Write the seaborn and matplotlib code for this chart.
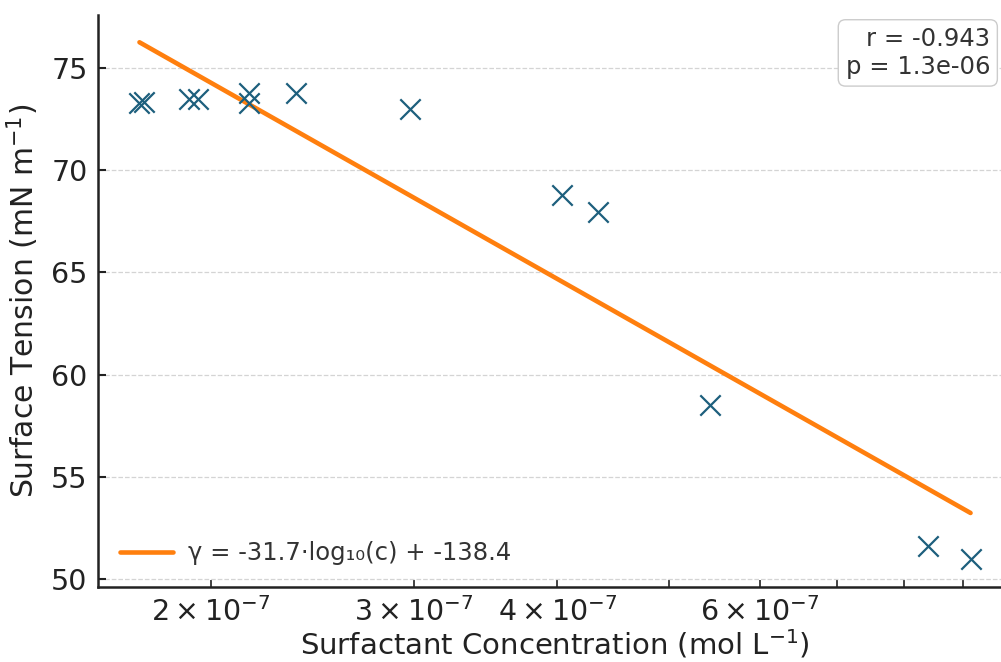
import numpy as np
import pandas as pd
import matplotlib
matplotlib.use("Agg")
import matplotlib.pyplot as plt
import seaborn as sns

# ---- data ----
concentration = [1.734e-7, 1.75e-7, 1.915e-7, 1.95e-7, 2.158e-7, 2.158e-7,
                 2.37e-7, 2.98e-7, 4.04e-7, 4.34e-7, 5.43e-7, 8.39e-7, 9.14e-7]
tension = [73.28, 73.35, 73.47, 73.47, 73.76, 73.28,
           73.76, 73.01, 68.80, 67.98, 58.51, 51.60, 50.98]
stats_text = "r = -0.943\np = 1.3e-06"
fit_label = "γ = -31.7·log₁₀(c) + -138.4"
x_label = "Surfactant Concentration (mol L$^{-1}$)"
y_label = "Surface Tension (mN m$^{-1}$)"
y_ticks = [50, 55, 60, 65, 70, 75]

sns.set_theme(style="ticks")
plt.rcParams['font.family'] = ['DejaVu Sans']

df = pd.DataFrame({"c": concentration, "g": tension})
logc = np.log10(df["c"].values)
slope, intercept = np.polyfit(logc, df["g"].values, 1)
xs = np.array([df["c"].min(), df["c"].max()])
fit_df = pd.DataFrame({"c": xs, "g": slope * np.log10(xs) + intercept})

fig = plt.figure(figsize=(10.01, 6.62), dpi=100)
ax = fig.add_axes([98 / 1001, 1 - 587 / 662, (1012 - 98) / 1001, (587 - 15) / 662])

sns.scatterplot(data=df, x="c", y="g", ax=ax, marker="x", s=215,
                color="#1d5f7d", linewidth=1.6, zorder=3)
sns.lineplot(data=fit_df, x="c", y="g", ax=ax, color="#ff7f0e", linewidth=3.3,
             label=fit_label, zorder=2)
ax.set_xscale("log")

ax.set_yticks(y_ticks)
ax.set_xlim(1.596e-7, 9.93e-7)
ax.set_ylim(49.6, 77.6)
ax.yaxis.grid(True, linestyle="--", color="#d4d4d4", linewidth=0.9)
ax.xaxis.grid(False)
ax.set_axisbelow(True)

for s in ["top", "right"]:
    ax.spines[s].set_visible(False)
for s in ["left", "bottom"]:
    ax.spines[s].set_linewidth(1.8)
    ax.spines[s].set_color("#222222")

ax.tick_params(axis="both", which="both", direction="in", labelsize=20.5,
               color="#222222", labelcolor="#222222", pad=7.5)
ax.tick_params(axis="both", which="major", length=6, width=1.5)
ax.tick_params(axis="x", which="minor", length=5, width=1.2)

ax.set_xlabel(x_label, fontsize=21, color="#222222", labelpad=0)
ax.set_ylabel(y_label, fontsize=21.5, color="#222222", labelpad=7)

leg = ax.legend(loc="lower left", frameon=False, fontsize=17.5, handlelength=2.2,
                handletextpad=0.6)
for t in leg.get_texts():
    t.set_color("#333333")

ax.text(0.976, 0.979, stats_text, transform=ax.transAxes, ha="right", va="top",
        fontsize=17.5, color="#333333", multialignment="right",
        bbox=dict(boxstyle="round,pad=0.3", facecolor="white", edgecolor="#cccccc"))

fig.savefig("out.png", dpi=100)
